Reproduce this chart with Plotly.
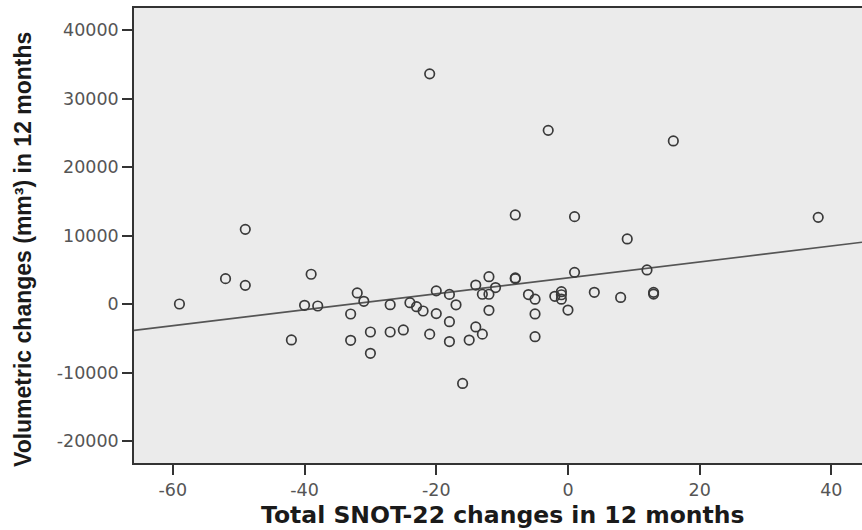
import plotly.graph_objects as go

# Total SNOT-22 change over 12 months (score points)
snot_change = [
    -59, -52, -49, -49, -42, -40, -39, -38, -33, -33,
    -32, -31, -30, -30, -27, -27, -25, -24, -23, -22,
    -21, -21, -20, -20, -18, -18, -18, -17, -16, -15,
    -14, -14, -13, -13, -12, -12, -12, -11, -8, -8,
    -8, -6, -5, -5, -5, -3, -2, -1, -1, -1,
    0, 1, 1, 4, 8, 9, 12, 13, 13, 16,
    38,
]

# Volumetric change over 12 months (mm^3)
volume_change = [
    0, 3700, 10900, 2720, -5250, -190, 4340, -290, -1460, -5300,
    1610, 390, -4090, -7200, -100, -4090, -3790, 190, -390, -1020,
    -4400, 33600, 1920, -1400, 1400, -2580, -5480, -120, -11600, -5260,
    2770, -3350, 1420, -4400, 3990, 1420, -920, 2400, 13000, 3800,
    3700, 1380, 700, -1450, -4770, 25350, 1120, 1800, 1350, 700,
    -880, 12750, 4620, 1710, 960, 9500, 4970, 1700, 1450, 23800,
    12650,
]

# Linear fit line (intercept, slope)
fit_intercept = 3815
fit_slope = 116.3

# Axis extents and ticks
x_range = [-65.9, 44.65]
y_range = [-23212, 43212]
x_ticks = [-60, -40, -20, 0, 20, 40]
x_tick_text = ["-60", "-40", "-20", "0", "20", "40"]
y_ticks = [-20000, -10000, 0, 10000, 20000, 30000, 40000]
y_tick_text = ["-20000", "-10000", "0", "10000", "20000", "30000", "40000"]

fit_x = x_range
fit_y = [fit_intercept + fit_slope * v for v in fit_x]

fig = go.Figure()

fig.add_trace(go.Scatter(
    x=fit_x, y=fit_y, mode="lines",
    line=dict(color="#555555", width=1.6),
    hoverinfo="skip", showlegend=False,
))

fig.add_trace(go.Scatter(
    x=snot_change, y=volume_change, mode="markers",
    marker=dict(symbol="circle-open", size=9.5, color="#3a3a3a",
                line=dict(width=1.7, color="#3a3a3a")),
    showlegend=False,
))

tick_font = dict(family="DejaVu Sans", size=17.5, color="#555555")

fig.update_layout(
    width=862, height=530,
    margin=dict(l=134, r=0, t=8, b=67),
    paper_bgcolor="white",
    plot_bgcolor="#ebebeb",
    xaxis=dict(
        range=x_range, tickvals=x_ticks, ticktext=x_tick_text,
        showgrid=False, zeroline=False,
        showline=True, linecolor="#333333", linewidth=1.5, mirror=True,
        ticks="outside", ticklen=10, tickwidth=1.5, tickcolor="#333333",
        tickfont=tick_font,
    ),
    yaxis=dict(
        range=y_range, tickvals=y_ticks, ticktext=y_tick_text,
        showgrid=False, zeroline=False,
        showline=True, linecolor="#333333", linewidth=1.5,
        ticks="outside", ticklen=10, tickwidth=1.5, tickcolor="#333333",
        tickfont=tick_font,
    ),
    annotations=[
        dict(
            text="Total SNOT-22 changes in 12 months",
            xref="paper", yref="paper",
            x=(503 - 134) / 728, y=-(515 - 463) / 455,
            xanchor="center", yanchor="middle", showarrow=False,
            font=dict(family="DejaVu Sans", size=23.5, color="#1a1a1a", weight="bold"),
        ),
        dict(
            text="Volumetric changes (mm³) in 12 months",
            xref="paper", yref="paper",
            x=-(134 - 23) / 728, y=(463 - 250) / 455,
            xanchor="center", yanchor="middle", showarrow=False,
            textangle=-90,
            font=dict(family="Liberation Sans", size=23, color="#1a1a1a", weight="bold"),
        ),
    ],
)

fig.write_html("out.html")
